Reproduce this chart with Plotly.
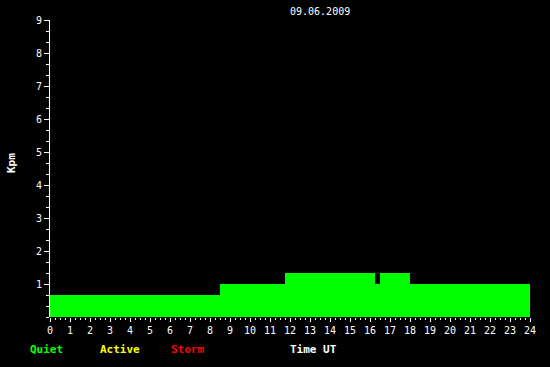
import plotly.graph_objects as go

# Kpm step data (start hour, end hour, value)
seg_start = [0.0, 8.5, 11.75, 16.25, 16.5, 18.0]
seg_end = [8.5, 11.75, 16.25, 16.5, 18.0, 24.0]
kpm = [0.667, 1.0, 1.333, 1.0, 1.333, 1.0]

x_ticks = list(range(0, 25))
y_ticks = list(range(1, 10))
title_text = "09.06.2009"
legend_labels = ["Quiet", "Active", "Storm"]
legend_colors = ["#00ff00", "#ffff00", "#ff0000"]

W, H = 550, 367
L, R, T, B = 50, 20, 20, 50
pw, ph = W - L - R, H - T - B

def px(x):
    return (x - L) / pw

def py(y):
    return (H - B - y) / ph

centers = [(s + e) / 2 for s, e in zip(seg_start, seg_end)]
widths = [e - s for s, e in zip(seg_start, seg_end)]

fig = go.Figure()
fig.add_trace(go.Bar(x=centers, y=kpm, width=widths,
                     marker=dict(color="#00ff00", line=dict(width=0)),
                     hoverinfo="skip"))

font = dict(family="DejaVu Sans Mono", size=10, color="white")
bfont = dict(family="DejaVu Sans Mono", size=11, color="white")

fig.update_layout(
    width=W, height=H,
    margin=dict(l=L, r=R, t=T, b=B),
    paper_bgcolor="black", plot_bgcolor="black",
    showlegend=False,
    font=font,
    xaxis=dict(range=[0, 24], tickvals=x_ticks, ticktext=[str(v) for v in x_ticks],
               ticks="outside", ticklen=4, tickwidth=1, tickcolor="white",
               showgrid=False, zeroline=False, showline=False,
               minor=dict(dtick=0.25, ticks="outside", ticklen=2, tickcolor="white", showgrid=False),
               tickfont=font),
    yaxis=dict(range=[0, 9], tickvals=y_ticks, ticktext=[str(v) for v in y_ticks],
               ticks="outside", ticklen=5, tickwidth=1, tickcolor="white",
               showgrid=False, zeroline=False, showline=True, linecolor="white", linewidth=1,
               minor=dict(dtick=1/3, tick0=0, ticks="outside", ticklen=3, tickcolor="white", showgrid=False),
               tickfont=font),
)

annots = [
    dict(text=title_text, x=px(320), y=py(12), font=font),
    dict(text="<b>Kpm</b>", x=px(11), y=py(163), textangle=-90, font=bfont),
    dict(text="<b>Time UT</b>", x=px(313), y=py(349), font=bfont),
]
lx = [46, 120, 187]
for lab, col, x in zip(legend_labels, legend_colors, lx):
    annots.append(dict(text="<b>" + lab + "</b>", x=px(x), y=py(349),
                       font=dict(family="DejaVu Sans Mono", size=11, color=col)))
for a in annots:
    a.update(xref="paper", yref="paper", showarrow=False, xanchor="center", yanchor="middle")
fig.update_layout(annotations=annots)

fig.write_html("out.html")
